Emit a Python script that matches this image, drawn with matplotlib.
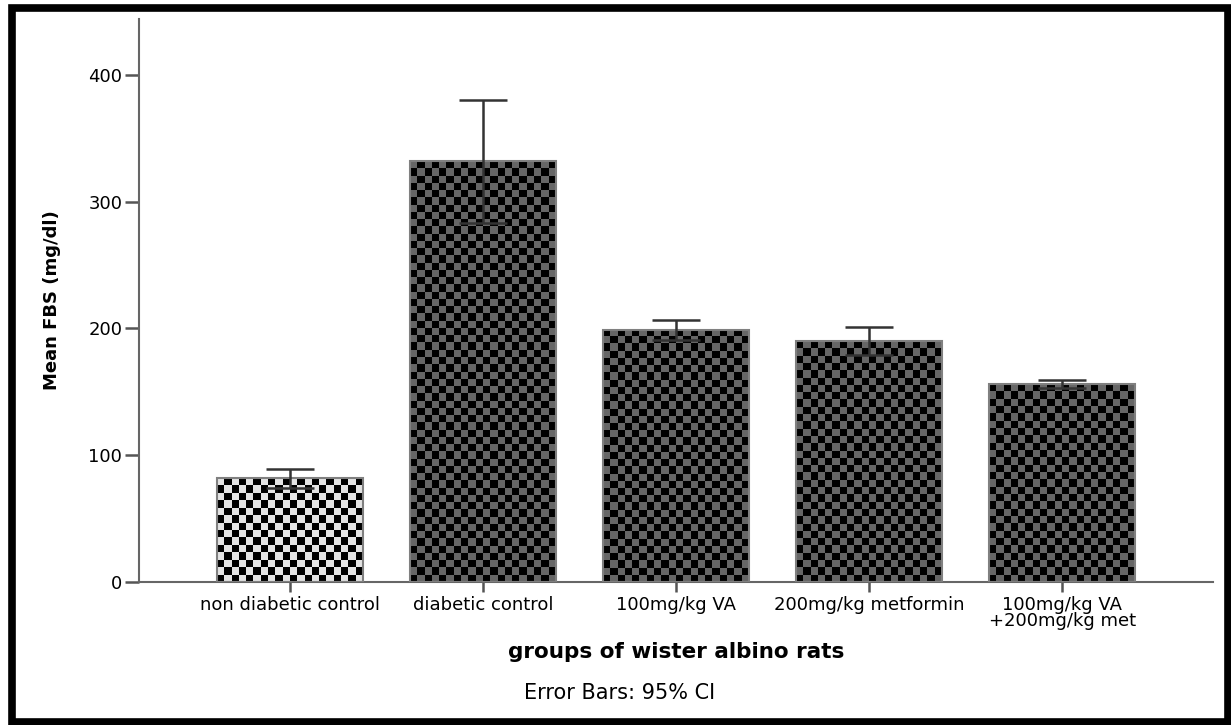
import numpy as np
import matplotlib
matplotlib.use('Agg')
import matplotlib.pyplot as plt
from matplotlib.colors import ListedColormap
from matplotlib.patches import Rectangle

plt.rcParams['font.family'] = ['DejaVu Sans']

groups = ['non diabetic control', 'diabetic control', '100mg/kg VA',
          '200mg/kg metformin', '100mg/kg VA\n+200mg/kg met']
mean_fbs = [82, 332, 199, 190, 156]
ci_low = [74, 283, 191, 179, 153]
ci_high = [89, 380, 207, 201, 159]
light_cells = ['#e4e4e4', '#666666', '#666666', '#666666', '#666666']

fig = plt.figure(figsize=(12.31, 7.25), dpi=100)
ax = fig.add_axes([139 / 1231, 143 / 725, 1074 / 1231, 563 / 725])

x = np.arange(len(groups))
bar_w = 0.755
bars = ax.bar(x, mean_fbs, width=bar_w, color='none', edgecolor='#808080',
              linewidth=1.5, zorder=3)

ax.set_xlim(-0.78, 4.78)
ax.set_ylim(0, 444)

# checkerboard fill, about 7 px per cell
px_per_unit = 563 / 444
cell_px = 7.3
for b, light in zip(bars, light_cells):
    x0, w, h = b.get_x(), b.get_width(), b.get_height()
    nx = 20
    ny = max(1, int(round(h * px_per_unit / cell_px)))
    board = np.indices((ny, nx)).sum(axis=0) % 2
    ax.imshow(board, cmap=ListedColormap(['black', light]), origin='lower',
              extent=[x0, x0 + w, 0, h], aspect='auto',
              interpolation='nearest', zorder=2)

err = [np.array(mean_fbs) - np.array(ci_low), np.array(ci_high) - np.array(mean_fbs)]
ax.errorbar(x, mean_fbs, yerr=err, fmt='none', ecolor='#333333',
            elinewidth=1.8, capsize=17, capthick=1.8, zorder=4)

ax.set_xlim(-0.78, 4.78)
ax.set_ylim(0, 444)

for s in ['top', 'right']:
    ax.spines[s].set_visible(False)
for s in ['left', 'bottom']:
    ax.spines[s].set_color('#666666')
    ax.spines[s].set_linewidth(1.5)

ax.set_yticks([0, 100, 200, 300, 400])
ax.tick_params(axis='y', length=10, width=1.8, color='#555555',
               labelsize=13, pad=2)
ax.set_xticks(x)
ax.set_xticklabels(groups, linespacing=0.85)
ax.tick_params(axis='x', length=7, width=1.8, color='#555555',
               labelsize=13, pad=3)

ax.set_ylabel('Mean FBS (mg/dl)', fontsize=13, fontweight='heavy', labelpad=20)
fig.text(676 / 1231, 1 - 652 / 725, 'groups of wister albino rats',
         fontsize=15.5, fontweight='bold', ha='center', va='center')
fig.text(0.503, 1 - 693 / 725, 'Error Bars: 95% CI', fontsize=15,
         ha='center', va='center')

fig.patches.append(Rectangle((11.5 / 1231, 3 / 725), 1216.5 / 1231, 714 / 725,
                             transform=fig.transFigure, fill=False,
                             edgecolor='black', linewidth=5.5))

fig.savefig('out.png', dpi=100)
